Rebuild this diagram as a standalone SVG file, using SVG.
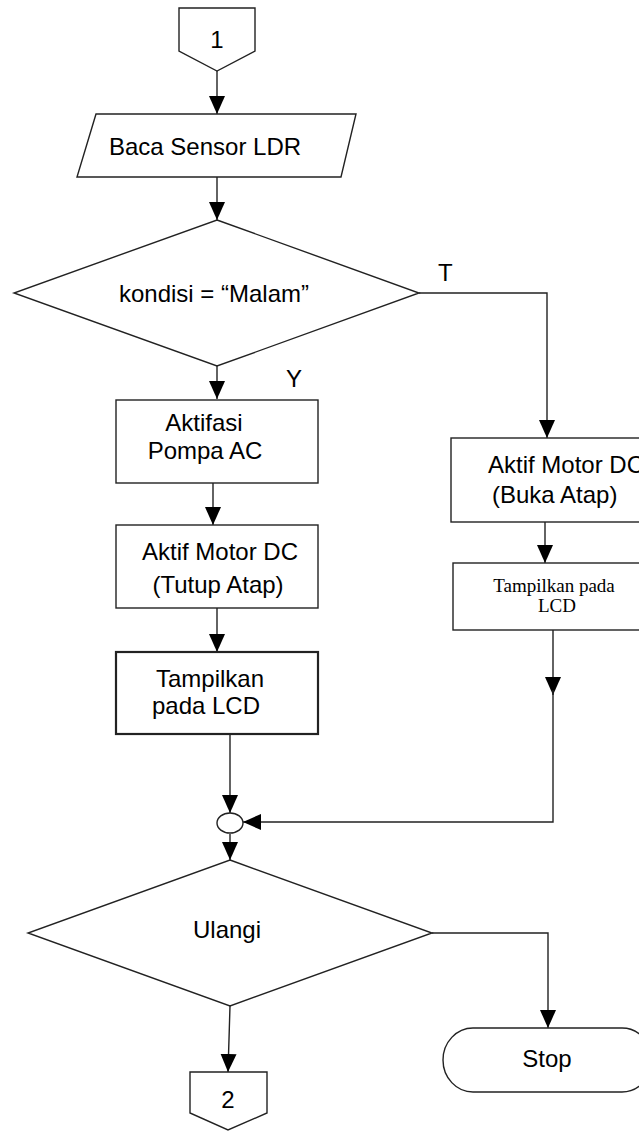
<svg xmlns="http://www.w3.org/2000/svg" width="639" height="1131" viewBox="0 0 639 1131">
<style>
.shape{fill:#fff;stroke:#222;stroke-width:1.4}
.thick{stroke-width:2.2}
.line{fill:none;stroke:#222;stroke-width:1.4;marker-end:url(#ah)}
.plain{fill:none;stroke:#222;stroke-width:1.4}
.t{font-family:"Liberation Sans",Arial,sans-serif;font-size:24px;fill:#000}
.c{text-anchor:middle}
.s{font-family:"Liberation Serif","Times New Roman",serif;font-size:19px;fill:#000;text-anchor:middle}
</style>
<defs>
<marker id="ah" viewBox="0 0 18 18" refX="18" refY="9" markerWidth="18" markerHeight="18" markerUnits="userSpaceOnUse" orient="auto">
<path d="M0,1 L18,9 L0,17 Z" fill="#000"/>
</marker>
</defs>
<rect width="639" height="1131" fill="#fff"/>
<g id="connectors">
<path class="line" d="M217,71 V114"/>
<path class="line" d="M217,177 V220"/>
<path class="line" d="M217,366 V399"/>
<path class="line" d="M419,293 H547 V438"/>
<path class="line" d="M213,483 V525"/>
<path class="line" d="M217,608 V652"/>
<path class="line" d="M545,522 V563"/>
<path class="line" d="M230,734 V813"/>
<path class="line" d="M553,630 V695"/>
<path class="line" d="M553,690 V822 H243"/>
<path class="line" d="M230,834 V860"/>
<path class="line" d="M432,933 H548 V1028"/>
<path class="line" d="M230,1006 L228,1072"/>
</g>
<g id="start-connector">
<path class="shape" d="M179,8 L255,8 L255,51 L217,71 L179,51 Z"/>
<text class="t c" x="217" y="48">1</text>
</g>
<g id="read-ldr">
<path class="shape" d="M96,114 L356,114 L341,177 L77,177 Z"/>
<text class="t c" x="205" y="155">Baca Sensor LDR</text>
</g>
<g id="decision-malam">
<path class="shape" d="M217,220 L419,293 L217,366 L14,293 Z"/>
<text class="t c" x="214" y="302">kondisi = “Malam”</text>
<text class="t" x="438" y="281">T</text>
<text class="t" x="286" y="387">Y</text>
</g>
<g id="pompa">
<rect class="shape" x="116" y="400" width="202" height="83"/>
<text class="t c" x="204" y="431">Aktifasi</text>
<text class="t c" x="205" y="459">Pompa AC</text>
</g>
<g id="motor-tutup">
<rect class="shape" x="116" y="525" width="202" height="83"/>
<text class="t c" x="220" y="560">Aktif Motor DC</text>
<text class="t c" x="218" y="593">(Tutup Atap)</text>
</g>
<g id="lcd-left">
<rect class="shape thick" x="116" y="652" width="202" height="82"/>
<text class="t c" x="210" y="687">Tampilkan</text>
<text class="t c" x="206" y="714">pada LCD</text>
</g>
<g id="motor-buka">
<rect class="shape" x="451" y="438" width="220" height="84"/>
<text class="t" x="488" y="473">Aktif Motor DC</text>
<text class="t" x="492" y="503">(Buka Atap)</text>
</g>
<g id="lcd-right">
<rect class="shape" x="453" y="563" width="212" height="67"/>
<text class="s" x="554" y="592">Tampilkan pada</text>
<text class="s" x="557" y="612">LCD</text>
</g>
<g id="merge">
<ellipse class="shape" cx="230" cy="823" rx="13" ry="10"/>
</g>
<g id="decision-ulangi">
<path class="shape" d="M230,860 L432,933 L230,1006 L28,933 Z"/>
<text class="t c" x="227" y="938">Ulangi</text>
</g>
<g id="stop">
<rect class="shape" x="443" y="1028" width="209" height="64" rx="30" ry="32"/>
<text class="t c" x="547" y="1067">Stop</text>
</g>
<g id="end-connector">
<path class="shape" d="M190,1072 L267,1072 L267,1113 L228,1130 L190,1113 Z"/>
<text class="t c" x="228" y="1108">2</text>
</g>
</svg>
